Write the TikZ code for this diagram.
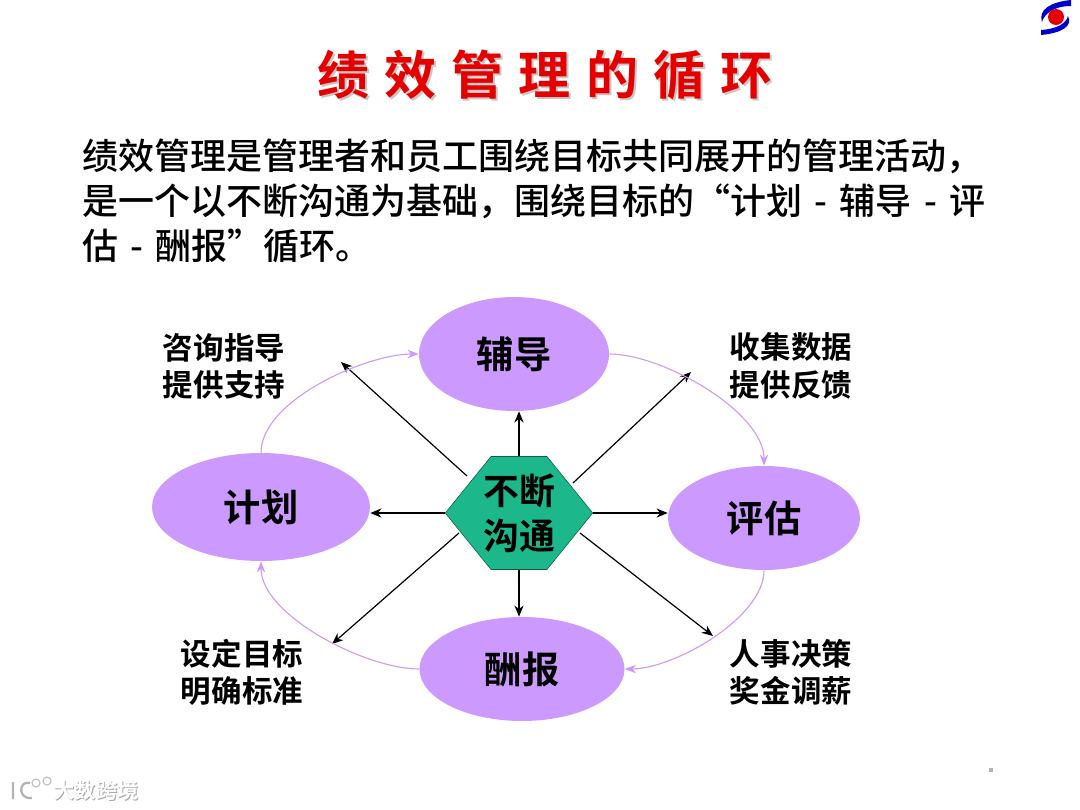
\documentclass[tikz,border=0pt]{standalone}
\usepackage{fontspec}
\usetikzlibrary{shapes.geometric, shapes.symbols, arrows.meta}
\setmainfont{Noto Sans CJK SC Medium}
\newfontfamily\boldcjk{Noto Sans CJK SC Bold}
\newfontfamily\titlecjk[LetterSpace=29]{Noto Sans CJK SC Bold}
\definecolor{lilac}{RGB}{204,153,255}
\definecolor{teal}{RGB}{28,184,140}

\tikzset{
    phase/.style={ellipse, fill=lilac, inner sep=0pt, font=\boldcjk\fontsize{26.5}{30}\selectfont},
    note/.style={align=center, font=\boldcjk\fontsize{21.7}{26.5}\selectfont},
    spoke/.style={-{Stealth[length=8pt,width=6.5pt]}, line width=0.85pt, black},
    loopline/.style={-{Stealth[length=8pt,width=6pt]}, line width=0.8pt, lilac, looseness=0.72}
}

\begin{document}
\begin{tikzpicture}[x=0.025cm, y=-0.025cm]

    \useasboundingbox (0,0) rectangle (1080,810);

    % Logo
    \fill[blue!80!black] (1071,0) .. controls (1050,2) and (1038,10) .. (1042,22)
        .. controls (1044,14) and (1054,6) .. (1071,6) -- cycle;
    \fill[blue!80!black] (1041,35) .. controls (1062,33) and (1073,26) .. (1068,16)
        .. controls (1066,24) and (1056,29) .. (1041,30) -- cycle;
    \fill[red!90!black] (1056,17) circle (8);

    % Title
    \node[text=black!22, font=\titlecjk\fontsize{37}{40}\selectfont] at (547,77) {绩效管理的循环};
    \node[text=red!90!black, font=\titlecjk\fontsize{37}{40}\selectfont] (title) at (545,75) {绩效管理的循环};

    % Intro text
    \node[anchor=north west, align=left, inner sep=0pt, font=\fontsize{25.6}{31.8}\selectfont] (intro) at (82,139)
        {绩效管理是管理者和员工围绕目标共同展开的管理活动，\\
         是一个以不断沟通为基础，围绕目标的“计划\hspace{3pt} - \hspace{3pt}辅导\hspace{3pt} - \hspace{3pt}评\\
         估\hspace{3pt} - \hspace{3pt}酬报”循环。};

    % Phases
    \node[phase, minimum width=218*0.711pt, minimum height=108*0.711pt] (plan) at (261,507) {计划};
    \node[phase, minimum width=190*0.711pt, minimum height=114*0.711pt] (coach) at (514,354) {辅导};
    \node[phase, minimum width=192*0.711pt, minimum height=104*0.711pt] (review) at (764,518) {评估};
    \node[phase, minimum width=205*0.711pt, minimum height=104*0.711pt] (reward) at (522,669) {酬报};

    % Centre
    \node[signal, signal to=east and west, signal pointer angle=102, draw=black!50!teal, fill=teal,
        minimum height=113*0.711pt, inner sep=0pt, align=center,
        font=\boldcjk\fontsize{25.5}{32}\selectfont] (talk) at (519,513)
        {\makebox[39.8pt]{不断}\\\makebox[39.8pt]{沟通}};

    % Notes
    \node[note] (noteA) at (224,366) {咨询指导\\提供支持};
    \node[note] (noteB) at (791,366) {收集数据\\提供反馈};
    \node[note] (noteC) at (791,672) {人事决策\\奖金调薪};
    \node[note] (noteD) at (242,672) {设定目标\\明确标准};

    % Free ends of the diagonals
    \coordinate (endNW) at (341,362);
    \coordinate (endNE) at (691,372);
    \coordinate (endSE) at (713,636);
    \coordinate (endSW) at (332,644);
    \coordinate (startNW) at (467,476);
    \coordinate (startNE) at (573,483);
    \coordinate (startSE) at (580,533);
    \coordinate (startSW) at (459,533);

    % Spokes
    \draw[spoke] (talk.north) -- (talk.north |- coach.south);
    \draw[spoke] (talk.south) -- (talk.south |- reward.north);
    \draw[spoke] (talk.west) -- (plan.east |- talk.west);
    \draw[spoke] (talk.east) -- (review.west |- talk.east);
    \draw[spoke] (startNW) -- (endNW);
    \draw[spoke] (startNE) -- (endNE);
    \draw[spoke] (startSE) -- (endSE);
    \draw[spoke] (startSW) -- (endSW);

    % Cycle
    \draw[loopline] (plan.north) to[out=90, in=180] (coach.west);
    \draw[loopline] (coach.east) to[out=0, in=90] (review.north);
    \draw[loopline] (review.south) to[out=-90, in=0] (reward.east);
    \draw[loopline] (reward.west) to[out=180, in=-90] (plan.south);

    % Small mark
    \fill[black!30] (989,768) rectangle (993,772);

    % Watermark
    \node[text=black!35, font=\boldcjk\fontsize{15}{18}\selectfont] at (97,791) {大数跨境};
    \node[text=white, font=\boldcjk\fontsize{15}{18}\selectfont] (mark) at (96,790) {大数跨境};
    \draw[black!30, line width=1.6pt] (13,782) -- (13,799)
        (30,783) .. controls (18,780) and (18,800) .. (32,798);
    \draw[black!25, line width=0.8pt] (36,783) circle (4) (47,781) circle (4);

\end{tikzpicture}
\end{document}
